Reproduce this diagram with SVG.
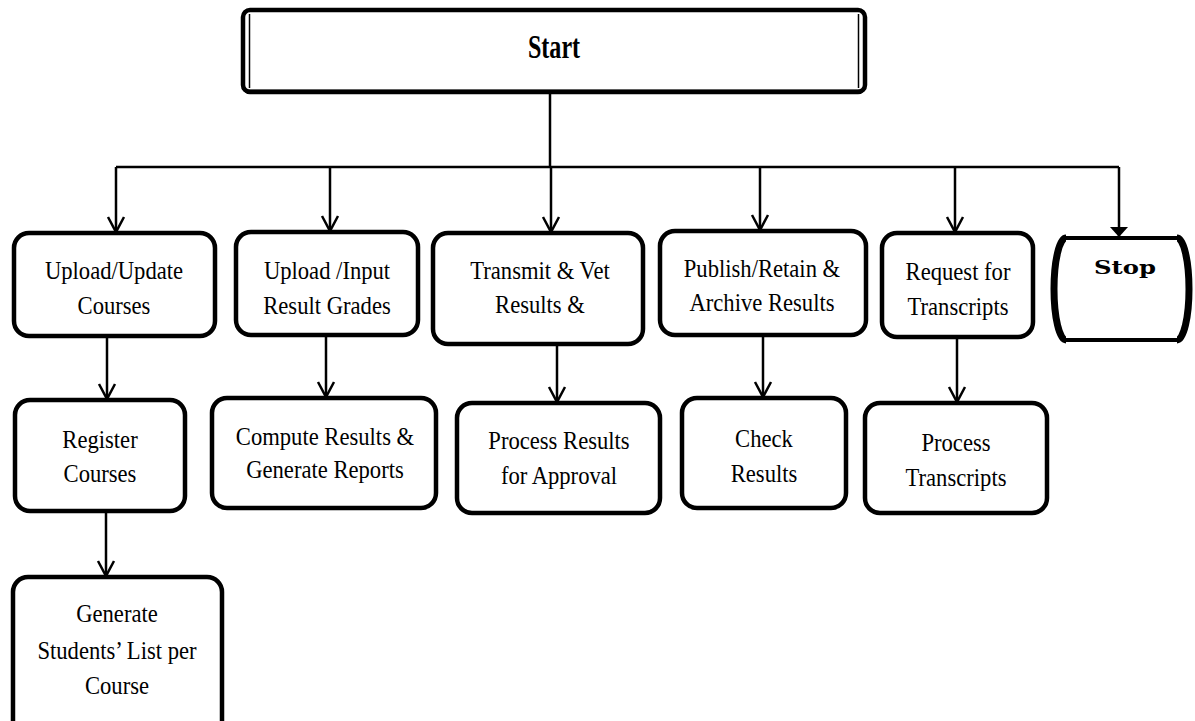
<svg xmlns="http://www.w3.org/2000/svg" width="1195" height="721" viewBox="0 0 1195 721">
  <style>
    .box { fill: #fff; stroke: #000; stroke-width: 4.5; }
    .t { font-family: "Liberation Serif", "Times New Roman", serif; font-size: 26px; fill: #000; text-anchor: middle; }
    .tb { font-weight: bold; font-size: 33px; }
    .stop-t { font-family: "DejaVu Serif", serif; font-weight: bold; font-size: 19px; fill: #000; text-anchor: middle; }
    .ln { fill: none; stroke: #000; stroke-width: 2.5; }
  </style>
  <defs>
    <marker id="vee" markerUnits="userSpaceOnUse" markerWidth="20" markerHeight="20" viewBox="-16 -10 18 20" refX="0" refY="0" orient="auto" overflow="visible">
      <path d="M-15,-8 L0,0 L-15,8" fill="none" stroke="#000" stroke-width="2.5" stroke-linejoin="miter"/>
    </marker>
    <marker id="tri" markerUnits="userSpaceOnUse" markerWidth="20" markerHeight="20" viewBox="-12 -10 14 20" refX="0" refY="0" orient="auto" overflow="visible">
      <path d="M-10,-9 L0,0 L-10,9 Z" fill="#000"/>
    </marker>
  </defs>

  <!-- connectors -->
  <g id="connectors">
    <path class="ln" d="M550,92 V167"/>
    <path class="ln" d="M116,167 H1119"/>
    <path class="ln" d="M116,167 V232" marker-end="url(#vee)"/>
    <path class="ln" d="M330,167 V231" marker-end="url(#vee)"/>
    <path class="ln" d="M551,167 V232" marker-end="url(#vee)"/>
    <path class="ln" d="M760,167 V230" marker-end="url(#vee)"/>
    <path class="ln" d="M955,167 V232" marker-end="url(#vee)"/>
    <path class="ln" d="M1119,167 V237" marker-end="url(#tri)"/>
    <path class="ln" d="M107,337 V399" marker-end="url(#vee)"/>
    <path class="ln" d="M326,335 V397" marker-end="url(#vee)"/>
    <path class="ln" d="M557,345 V402" marker-end="url(#vee)"/>
    <path class="ln" d="M763,335 V397" marker-end="url(#vee)"/>
    <path class="ln" d="M957,338 V402" marker-end="url(#vee)"/>
    <path class="ln" d="M106,512 V576" marker-end="url(#vee)"/>
  </g>

  <!-- start terminal -->
  <g id="start">
    <rect class="box" x="243" y="10" width="622" height="82" rx="7" stroke-width="4"/>
    <path d="M245,91 H863" stroke="#000" stroke-width="3"/>
    <path d="M249.5,14 V88 M858.5,14 V88" stroke="#000" stroke-width="1.5"/>
    <text class="t tb" transform="translate(554 0) scale(0.73 1)"><tspan x="0" y="58">Start</tspan></text>
  </g>

  <!-- first row -->
  <g id="upload-update-courses">
    <rect class="box" x="14" y="233" width="201" height="103" rx="15"/>
    <text class="t" transform="translate(114 0) scale(0.87 1)"><tspan x="0" y="279">Upload/Update</tspan><tspan x="0" y="314">Courses</tspan></text>
  </g>
  <g id="upload-input-grades">
    <rect class="box" x="236" y="232" width="182" height="103" rx="15"/>
    <text class="t" transform="translate(327 0) scale(0.87 1)"><tspan x="0" y="279">Upload /Input</tspan><tspan x="0" y="314">Result Grades</tspan></text>
  </g>
  <g id="transmit-vet">
    <rect class="box" x="433" y="233" width="210" height="111" rx="15"/>
    <text class="t" transform="translate(540 0) scale(0.87 1)"><tspan x="0" y="279">Transmit &amp; Vet</tspan><tspan x="0" y="313">Results &amp;</tspan></text>
  </g>
  <g id="publish-retain-archive">
    <rect class="box" x="660" y="231" width="206" height="104" rx="15"/>
    <text class="t" transform="translate(762 0) scale(0.87 1)"><tspan x="0" y="277">Publish/Retain &amp;</tspan><tspan x="0" y="311">Archive Results</tspan></text>
  </g>
  <g id="request-transcripts">
    <rect class="box" x="882" y="233" width="151" height="104" rx="15"/>
    <text class="t" transform="translate(958 0) scale(0.87 1)"><tspan x="0" y="280">Request for</tspan><tspan x="0" y="315">Transcripts</tspan></text>
  </g>
  <g id="stop">
    <path d="M1066,238 H1177 A12,51 0 0 1 1177,340 H1066 A12,51 0 0 1 1066,238 Z" fill="#fff" stroke="#000" stroke-width="4"/>
    <path d="M1066,238 A12,51 0 0 0 1066,340 M1177,238 A12,51 0 0 1 1177,340" fill="none" stroke="#000" stroke-width="7"/>
    <text class="stop-t" x="1125" y="274" textLength="62" lengthAdjust="spacingAndGlyphs">Stop</text>
  </g>

  <!-- second row -->
  <g id="register-courses">
    <rect class="box" x="15" y="400" width="170" height="111" rx="15"/>
    <text class="t" transform="translate(100 0) scale(0.87 1)"><tspan x="0" y="448">Register</tspan><tspan x="0" y="482">Courses</tspan></text>
  </g>
  <g id="compute-results">
    <rect class="box" x="212" y="398" width="224" height="110" rx="15"/>
    <text class="t" transform="translate(325 0) scale(0.87 1)"><tspan x="0" y="445">Compute Results &amp;</tspan><tspan x="0" y="478">Generate Reports</tspan></text>
  </g>
  <g id="process-approval">
    <rect class="box" x="457" y="403" width="203" height="110" rx="15"/>
    <text class="t" transform="translate(559 0) scale(0.87 1)"><tspan x="0" y="449">Process Results</tspan><tspan x="0" y="484">for Approval</tspan></text>
  </g>
  <g id="check-results">
    <rect class="box" x="682" y="398" width="164" height="110" rx="15"/>
    <text class="t" transform="translate(764 0) scale(0.87 1)"><tspan x="0" y="447">Check</tspan><tspan x="0" y="482">Results</tspan></text>
  </g>
  <g id="process-transcripts">
    <rect class="box" x="865" y="403" width="182" height="110" rx="15"/>
    <text class="t" transform="translate(956 0) scale(0.87 1)"><tspan x="0" y="451">Process</tspan><tspan x="0" y="486">Transcripts</tspan></text>
  </g>

  <!-- third row -->
  <g id="students-list">
    <rect class="box" x="13" y="577" width="209" height="160" rx="15"/>
    <text class="t" transform="translate(117 0) scale(0.87 1)"><tspan x="0" y="622">Generate</tspan><tspan x="0" y="659">Students’ List per</tspan><tspan x="0" y="694">Course</tspan></text>
  </g>
</svg>
